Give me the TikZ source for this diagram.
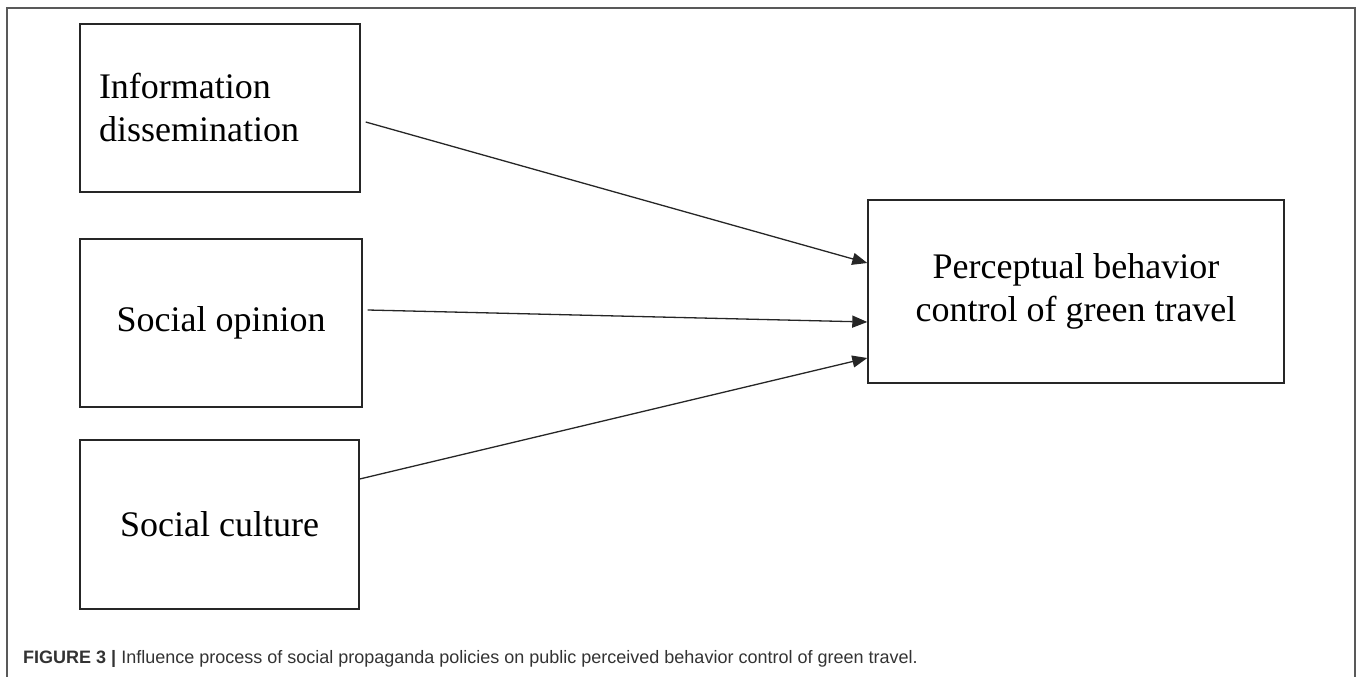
\documentclass[tikz,border=0pt]{standalone}
\usepackage{fontspec}
\setmainfont{Liberation Serif}
\newfontfamily\capfont{Liberation Sans}
\usetikzlibrary{arrows.meta}
\begin{document}
\begin{tikzpicture}[x=1pt,y=-1pt,
  boxnode/.style={draw=black!85,line width=1.4pt,inner sep=0pt,
    font=\fontsize{36}{43}\selectfont,align=center},
  arrowline/.style={line width=1.3pt,draw=black!85,
    -{Triangle[length=15pt,width=12pt]}},
  framebox/.style={draw=black!65,line width=1.8pt},
  captext/.style={anchor=base west,inner sep=0pt,text=black!80,
    font=\capfont\fontsize{18}{22}\selectfont}]
\useasboundingbox (0,0) rectangle (1357,677);
\draw[framebox] (7,677) -- (7,8) -- (1355,8) -- (1355,677);
\node[boxnode,minimum width=280pt,minimum height=168pt,text width=242pt,
  align=left,inner xsep=19pt] (b1) at (220,108) {Information\\dissemination};
\node[boxnode,minimum width=282pt,minimum height=168pt] (b2) at (221,323) {Social opinion};
\node[boxnode,minimum width=279pt,minimum height=169pt] (b3) at (219.5,524.5) {Social culture};
\node[boxnode,minimum width=416pt,minimum height=183pt] (b4) at (1076,291.5)
  {Perceptual behavior\\control of green travel};
\coordinate (s1) at ([shift={(5,14)}]b1.east);
\coordinate (s2) at ([shift={(5,-13)}]b2.east);
\coordinate (s3) at ([shift={(0,-45.5)}]b3.east);
\coordinate (e1) at ([shift={(0,-28.5)}]b4.west);
\coordinate (e2) at ([shift={(0,30.5)}]b4.west);
\coordinate (e3) at ([shift={(0,66.5)}]b4.west);
\draw[arrowline] (s1) -- (e1);
\draw[arrowline] (s2) -- (e2);
\draw[arrowline] (s3) -- (e3);
\node[captext] (cap) at (23,663) {\textbf{FIGURE 3} \textbf{|} Influence process of social propaganda policies on public perceived behavior control of green travel.};
\end{tikzpicture}
\end{document}
